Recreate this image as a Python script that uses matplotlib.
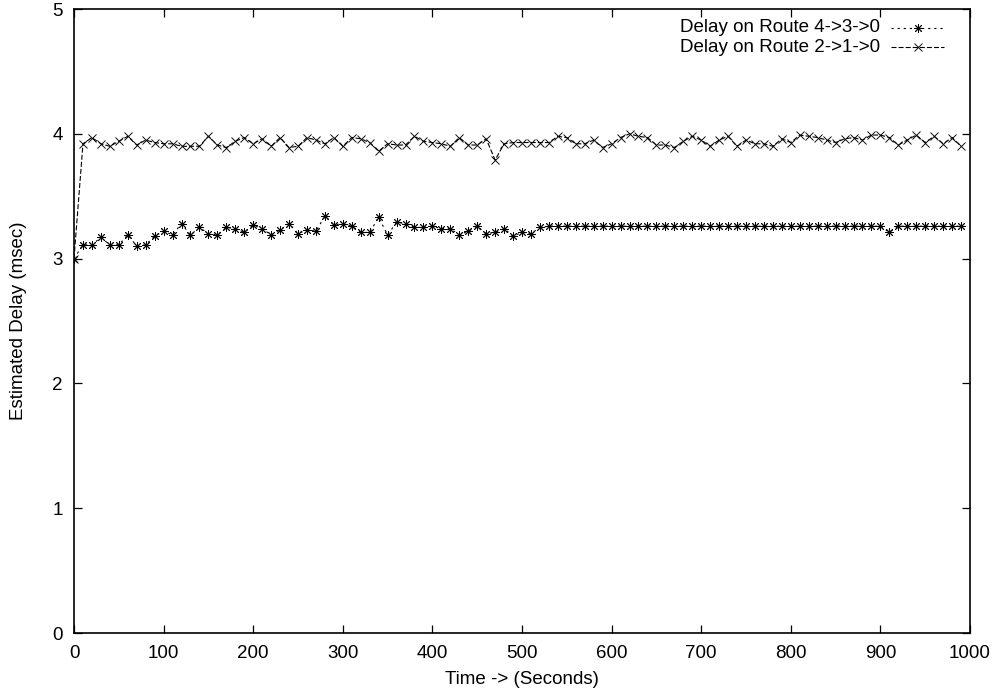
import matplotlib
matplotlib.use("Agg")
import matplotlib.pyplot as plt
from matplotlib.lines import Line2D

plt.rcParams['font.family'] = ['Liberation Sans', 'DejaVu Sans']
plt.rcParams['lines.scale_dashes'] = False

time = list(range(0, 1000, 10))

route_430 = [
    3.00, 3.11, 3.11, 3.17, 3.11, 3.11, 3.19, 3.10, 3.11, 3.18,
    3.22, 3.19, 3.28, 3.19, 3.25, 3.20, 3.19, 3.25, 3.24, 3.21,
    3.27, 3.24, 3.19, 3.23, 3.28, 3.20, 3.23, 3.22, 3.34, 3.27,
    3.28, 3.26, 3.21, 3.21, 3.33, 3.19, 3.29, 3.28, 3.25, 3.25,
    3.26, 3.24, 3.24, 3.19, 3.22, 3.26, 3.20, 3.21, 3.24, 3.18,
    3.21, 3.20, 3.25, 3.26, 3.26, 3.26, 3.26, 3.26, 3.26, 3.26,
    3.26, 3.26, 3.26, 3.26, 3.26, 3.26, 3.26, 3.26, 3.26, 3.26,
    3.26, 3.26, 3.26, 3.26, 3.26, 3.26, 3.26, 3.26, 3.26, 3.26,
    3.26, 3.26, 3.26, 3.26, 3.26, 3.26, 3.26, 3.26, 3.26, 3.26,
    3.26, 3.21, 3.26, 3.26, 3.26, 3.26, 3.26, 3.26, 3.26, 3.26,
]

route_210 = [
    3.00, 3.92, 3.97, 3.92, 3.90, 3.94, 3.98, 3.91, 3.95, 3.93,
    3.92, 3.92, 3.90, 3.90, 3.90, 3.98, 3.91, 3.89, 3.94, 3.97,
    3.92, 3.96, 3.90, 3.97, 3.89, 3.90, 3.97, 3.95, 3.92, 3.97,
    3.90, 3.97, 3.96, 3.93, 3.86, 3.92, 3.91, 3.91, 3.98, 3.94,
    3.93, 3.92, 3.90, 3.97, 3.91, 3.91, 3.96, 3.79, 3.92, 3.93,
    3.93, 3.93, 3.93, 3.93, 3.98, 3.97, 3.92, 3.92, 3.95, 3.89,
    3.92, 3.97, 4.00, 3.98, 3.97, 3.91, 3.91, 3.89, 3.94, 3.98,
    3.95, 3.90, 3.95, 3.98, 3.90, 3.95, 3.92, 3.92, 3.90, 3.96,
    3.93, 3.99, 3.98, 3.97, 3.95, 3.93, 3.96, 3.97, 3.95, 3.99,
    3.99, 3.97, 3.91, 3.95, 3.99, 3.93, 3.98, 3.92, 3.97, 3.90,
]

labels = ["Delay on Route 4->3->0", "Delay on Route 2->1->0"]
x_ticks = list(range(0, 1001, 100))
y_ticks = [0, 1, 2, 3, 4, 5]

W, H = 999, 698
FS = 13.5
fig = plt.figure(figsize=(W / 100, H / 100), dpi=100)
ax = fig.add_axes([74 / W, (H - 633) / H, (970 - 74) / W, (633 - 9) / H])

star = (8, 2, 0)
styles = [
    dict(linestyle=(0, (1.6, 2.8)), marker=star, markersize=6.2),
    dict(linestyle=(0, (3.6, 1.5)), marker='x', markersize=5.5),
]
series = [route_430, route_210]
for vals, st, lab in zip(series, styles, labels):
    ax.plot(time, vals, color='black', lw=0.8, markeredgewidth=0.65,
            label=lab, **st)

ax.set_xlim(0, 1000)
ax.set_ylim(0, 5)
ax.set_xticks(x_ticks)
ax.set_yticks(y_ticks)
ax.tick_params(direction='in', length=6, width=0.9, top=True, right=True,
               labelsize=FS)
ax.tick_params(axis='x', pad=9)
ax.tick_params(axis='y', pad=8)
for s in ax.spines.values():
    s.set_linewidth(1.2)

ax.set_xlabel("Time -> (Seconds)", fontsize=FS)
ax.set_ylabel("Estimated Delay (msec)", fontsize=FS)
ax.xaxis.set_label_coords(0.5, (633 - 671) / 624)
ax.yaxis.set_label_coords((27 - 74) / 896, 0.5)

# legend (gnuplot style: text right-aligned, sample to the right)
rows_y = [28, 47]
for y, st, lab in zip(rows_y, styles, labels):
    fy = 1 - y / H
    fig.text(880 / W, fy, lab, ha='right', va='center', fontsize=FS)
    fig.add_artist(Line2D([891 / W, 944 / W], [fy, fy], transform=fig.transFigure,
                          color='black', lw=0.8, linestyle=st['linestyle']))
    fig.add_artist(Line2D([918 / W], [fy], transform=fig.transFigure,
                          color='black', marker=st['marker'],
                          markersize=st['markersize'], markeredgewidth=0.65,
                          linestyle='none'))

fig.savefig("out.png", dpi=100)
